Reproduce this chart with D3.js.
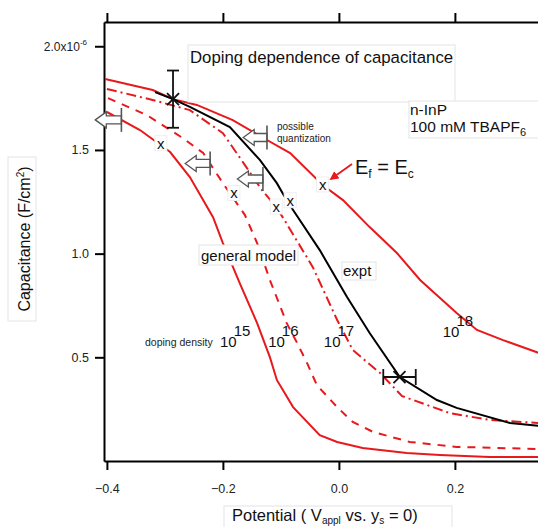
<!DOCTYPE html>
<html>
<head>
<meta charset="utf-8">
<script src="https://cdn.jsdelivr.net/npm/d3@7"></script>
<style>
  body { margin: 0; background: #fff; }
  text { font-family: "Liberation Sans", Arial, sans-serif; }
</style>
</head>
<body>
<div id="chart"></div>
<script>
// curves: [potential (V), capacitance (1e-6 F/cm2)]
var d1015 = [[-0.4,1.683],[-0.343,1.596],[-0.291,1.49],[-0.257,1.369],[-0.217,1.176],[-0.2,1.051],
  [-0.171,0.858],[-0.141,0.665],[-0.119,0.501],[-0.107,0.391],[-0.079,0.26],[-0.033,0.125],
  [-0.003,0.092],[0.041,0.063],[0.117,0.039],[0.174,0.029],[0.26,0.019],[0.345,0.019]];
var d1016 = [[-0.398,1.75],[-0.331,1.668],[-0.269,1.557],[-0.234,1.485],[-0.2,1.34],[-0.162,1.186],
  [-0.141,1.051],[-0.119,0.873],[-0.09,0.665],[-0.072,0.569],[-0.055,0.473],[-0.038,0.366],
  [-0.003,0.26],[0.024,0.188],[0.059,0.14],[0.122,0.092],[0.203,0.068],[0.345,0.058]];
var d1017 = [[-0.4,1.794],[-0.321,1.741],[-0.257,1.692],[-0.2,1.581],[-0.162,1.427],[-0.133,1.307],
  [-0.109,1.229],[-0.097,1.176],[-0.045,0.935],[-0.003,0.68],[0.024,0.535],[0.071,0.424],
  [0.109,0.313],[0.191,0.231],[0.26,0.198],[0.345,0.183]];
var d1018 = [[-0.403,1.842],[-0.321,1.789],[-0.286,1.745],[-0.245,1.717],[-0.183,1.644],[-0.124,1.548],
  [-0.084,1.485],[-0.028,1.331],[0.007,1.258],[0.053,1.128],[0.1,1.003],[0.14,0.873],
  [0.203,0.714],[0.238,0.632],[0.283,0.583],[0.345,0.521]];
var expt = [[-0.317,1.779],[-0.286,1.745],[-0.257,1.708],[-0.188,1.61],[-0.136,1.451],[-0.107,1.34],
  [-0.09,1.258],[-0.079,1.21],[-0.033,1.017],[0.014,0.791],[0.053,0.617],[0.105,0.405],
  [0.169,0.294],[0.203,0.256],[0.295,0.183],[0.345,0.169]];

// big X with error bars: [x, y, xerr, yerr]
var errPoints = [[-0.286,1.745,0,0.138],[0.1045,0.405,0.028,0]];
// small x marks
var xMarks = [[-0.307,1.53],[-0.181,1.29],[-0.108,1.225],[-0.084,1.255],[-0.028,1.331]];
// hollow arrows: [tip x, bar x, y]
var arrows = [[-0.42,-0.375,1.645],[-0.165,-0.124,1.56],[-0.265,-0.222,1.435],[-0.175,-0.131,1.36]];
// doping density labels: [x, y, exponent]
var dopeLabels = [[-0.205,0.551,'15'],[-0.122,0.551,'16'],[-0.026,0.551,'17'],[0.179,0.598,'18']];

var xTicks = [-0.4,-0.2,0.0,0.2];
var yTicks = [0.5,1.0,1.5,2.0];

var W = 538, H = 527;
var svg = d3.select('#chart').append('svg').attr('width', W).attr('height', H);

var x = d3.scaleLinear().domain([-0.405, 0.345]).range([104, 539]);
var y = d3.scaleLinear().domain([0, 2.117]).range([461, 22]);

var line = d3.line()
  .x(function(d){ return x(d[0]); })
  .y(function(d){ return y(d[1]); });

// axes
var xAxis = d3.axisBottom(x).tickValues(xTicks).tickSize(9).tickSizeOuter(0)
  .tickFormat(d3.format('.1f'));
var xTop = d3.axisTop(x).tickValues(xTicks).tickSize(9).tickSizeOuter(0).tickFormat('');
var yAxis = d3.axisLeft(y).tickValues(yTicks).tickSize(9).tickSizeOuter(0)
  .tickFormat(d3.format('.1f'));

var gx = svg.append('g').attr('transform', 'translate(0,461)').call(xAxis);
var gt = svg.append('g').attr('transform', 'translate(0,22)').call(xTop);
var gy = svg.append('g').attr('transform', 'translate(104,0)').call(yAxis);
[gx, gt, gy].forEach(function(g){
  g.selectAll('path, line').attr('stroke', '#000').attr('stroke-width', 2);
  g.selectAll('text').style('font-size', '12.5px').attr('fill', '#222');
});
gx.selectAll('text').attr('dy', '1.6em');
gy.selectAll('text').attr('x', -15);
// 2.0x10^-6 label
gy.selectAll('.tick').filter(function(d){ return d === 2.0; }).select('text')
  .style('font-size', '12px').attr('x', -17)
  .text('2.0x10')
  .append('tspan').attr('dy', -6).style('font-size', '8px').text('-6');

// curves
var curves = svg.append('g').attr('fill', 'none').attr('stroke-width', 2);
curves.append('path').attr('d', line(d1015)).attr('stroke', '#e8191c');
curves.append('path').attr('d', line(d1016)).attr('stroke', '#e8191c').attr('stroke-dasharray', '8,7');
curves.append('path').attr('d', line(d1017)).attr('stroke', '#e8191c').attr('stroke-dasharray', '10,4,2,4');
curves.append('path').attr('d', line(d1018)).attr('stroke', '#e8191c');
curves.append('path').attr('d', line(expt)).attr('stroke', '#000');

// error bar points
errPoints.forEach(function(p){
  var g = svg.append('g').attr('stroke', '#111').attr('stroke-width', 1.8);
  var cx = x(p[0]), cy = y(p[1]);
  if (p[3] > 0) {
    var y0 = y(p[1] - p[3]), y1 = y(p[1] + p[3]);
    g.append('line').attr('x1', cx).attr('x2', cx).attr('y1', y0).attr('y2', y1);
    g.append('line').attr('x1', cx - 6).attr('x2', cx + 6).attr('y1', y0).attr('y2', y0);
    g.append('line').attr('x1', cx - 6).attr('x2', cx + 6).attr('y1', y1).attr('y2', y1);
  }
  if (p[2] > 0) {
    var x0 = x(p[0] - p[2]), x1 = x(p[0] + p[2]);
    g.append('line').attr('x1', x0).attr('x2', x1).attr('y1', cy).attr('y2', cy);
    g.append('line').attr('x1', x0).attr('x2', x0).attr('y1', cy - 8).attr('y2', cy + 8);
    g.append('line').attr('x1', x1).attr('x2', x1).attr('y1', cy - 8).attr('y2', cy + 8);
  }
  g.append('line').attr('x1', cx - 6).attr('x2', cx + 6).attr('y1', cy - 6).attr('y2', cy + 6);
  g.append('line').attr('x1', cx - 6).attr('x2', cx + 6).attr('y1', cy + 6).attr('y2', cy - 6);
});

// small x marks
xMarks.forEach(function(p){
  svg.append('rect').attr('x', x(p[0]) - 6).attr('y', y(p[1]) - 8).attr('width', 12).attr('height', 15)
    .attr('fill', '#fff').attr('stroke', '#eee');
  svg.append('text').attr('x', x(p[0])).attr('y', y(p[1]) + 5).attr('text-anchor', 'middle')
    .style('font-size', '15px').attr('fill', '#111').text('x');
});

// hollow arrows
arrows.forEach(function(a){
  var tx = x(a[0]), bx = x(a[1]), cy = y(a[2]);
  var hx = tx + 11;
  var pts = [[tx, cy], [hx, cy - 8], [hx, cy - 4], [bx, cy - 4], [bx, cy + 4], [hx, cy + 4], [hx, cy + 8]];
  svg.append('path').attr('d', 'M' + pts.join('L') + 'Z')
    .attr('fill', '#fff').attr('stroke', '#555').attr('stroke-width', 1.3);
  svg.append('line').attr('x1', bx).attr('x2', bx).attr('y1', cy - 12).attr('y2', cy + 12)
    .attr('stroke', '#555').attr('stroke-width', 1.6);
});

// annotation boxes
function box(x0, y0, w, h) {
  svg.append('rect').attr('x', x0).attr('y', y0).attr('width', w).attr('height', h)
    .attr('fill', '#fff').attr('stroke', '#e4e4e4').attr('stroke-width', 1);
}
box(188, 45, 267, 57);
svg.append('text').attr('x', 190).attr('y', 63).style('font-size', '16.8px').attr('fill', '#111')
  .text('Doping dependence of capacitance');

box(409, 101, 142, 37);
svg.append('text').attr('x', 410).attr('y', 115).style('font-size', '15.5px').attr('fill', '#111').text('n-InP');
var tb = svg.append('text').attr('x', 410).attr('y', 132).style('font-size', '15.5px').attr('fill', '#111')
  .text('100 mM TBAPF');
tb.append('tspan').attr('dy', 4).style('font-size', '11px').text('6');

svg.append('text').attr('x', 277).attr('y', 130).style('font-size', '10px').attr('fill', '#222').text('possible');
svg.append('text').attr('x', 277).attr('y', 142).style('font-size', '10px').attr('fill', '#222').text('quantization');

var ef = svg.append('text').attr('x', 355).attr('y', 174).style('font-size', '20px').attr('fill', '#111').text('E');
ef.append('tspan').attr('dy', 4).style('font-size', '12px').text('f');
ef.append('tspan').attr('dy', -4).text(' = E');
ef.append('tspan').attr('dy', 4).style('font-size', '12px').text('c');

// red pointer arrow to Ef = Ec point
svg.append('defs').append('marker').attr('id', 'ah').attr('viewBox', '0 0 10 10')
  .attr('refX', 8).attr('refY', 5).attr('markerWidth', 5).attr('markerHeight', 5).attr('orient', 'auto')
  .append('path').attr('d', 'M0,0L10,5L0,10Z').attr('fill', '#e8191c');
svg.append('line').attr('x1', 352).attr('y1', 164).attr('x2', 331).attr('y2', 179)
  .attr('stroke', '#e8191c').attr('stroke-width', 1.8).attr('marker-end', 'url(#ah)');

box(199, 245, 99, 20);
svg.append('text').attr('x', 201).attr('y', 261).style('font-size', '15px').attr('fill', '#111').text('general model');
box(342, 262, 34, 18);
svg.append('text').attr('x', 343).attr('y', 276).style('font-size', '15px').attr('fill', '#111').text('expt');

svg.append('text').attr('x', 145).attr('y', 346).style('font-size', '10.5px').attr('fill', '#222').text('doping density');
dopeLabels.forEach(function(l){
  var t = svg.append('text').attr('x', x(l[0])).attr('y', y(l[1])).style('font-size', '15px').attr('fill', '#111').text('10');
  t.append('tspan').attr('dx', -3).attr('dy', -11).text(l[2]);
});

// axis titles
box(8, 157, 28, 164);
var yt = svg.append('text').attr('transform', 'translate(30,239) rotate(-90)').attr('text-anchor', 'middle')
  .style('font-size', '16px').attr('fill', '#111')
  .text('Capacitance (F/cm');
yt.append('tspan').attr('dy', -6).style('font-size', '10px').text('2');
yt.append('tspan').attr('dy', 6).text(')');

box(224, 506, 228, 30);
var xt = svg.append('text').attr('x', 232).attr('y', 521).style('font-size', '16.5px').attr('fill', '#111')
  .text('Potential ( V');
xt.append('tspan').attr('dy', 3).style('font-size', '10px').text('appl');
xt.append('tspan').attr('dy', -3).text(' vs. y');
xt.append('tspan').attr('dy', 3).style('font-size', '10px').text('s');
xt.append('tspan').attr('dy', -3).text(' = 0)');
</script>
</body>
</html>
